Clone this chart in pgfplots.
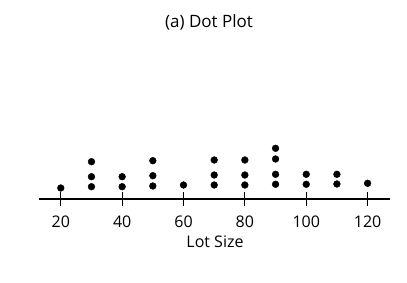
\documentclass[border=0pt]{standalone}
\usepackage{pgfplots}
\pgfplotsset{compat=1.18}
\usepackage{fontspec}
\setmainfont{Open Sans}
\begin{document}
\begin{tikzpicture}[x=1pt,y=1pt]
\useasboundingbox (0,0) rectangle (407,-283);
\begin{axis}[
  at={(39pt,-199pt)}, anchor=south west,
  scale only axis, width=351pt, height=60pt,
  xmin=12.9, xmax=127.3, ymin=0, ymax=60,
  axis x line=middle, axis y line=none,
  x axis line style={-, line width=1.4pt},
  xtick={20,40,...,120},
  xtick align=center,
  major tick length=14pt,
  every tick/.style={black, line width=1.2pt},
  xticklabel style={font=\fontsize{16}{19}\selectfont, anchor=north, yshift=-6pt},
  /pgf/number format/assume math mode=true,
  clip=false,
]
\addplot[only marks, mark=*, mark size=3.4pt, black] coordinates {
 (20,11)
 (30,12.3) (30,22.3) (30,37.3)
 (40,12.3) (40,22.3)
 (50,13) (50,23.3) (50,38.3)
 (60,14)
 (70,14) (70,24) (70,39)
 (80,14) (80,24) (80,39)
 (90,14.7) (90,24.7) (90,40) (90,50.7)
 (100,14.7) (100,24.7)
 (110,15) (110,24.7)
 (120,15.7)
};
\end{axis}
\node[font=\fontsize{17}{20}\selectfont] at (209,-22) {(a) Dot Plot};
\node[font=\fontsize{16}{19}\selectfont] at (215,-242) {Lot Size};
\end{tikzpicture}
\end{document}
